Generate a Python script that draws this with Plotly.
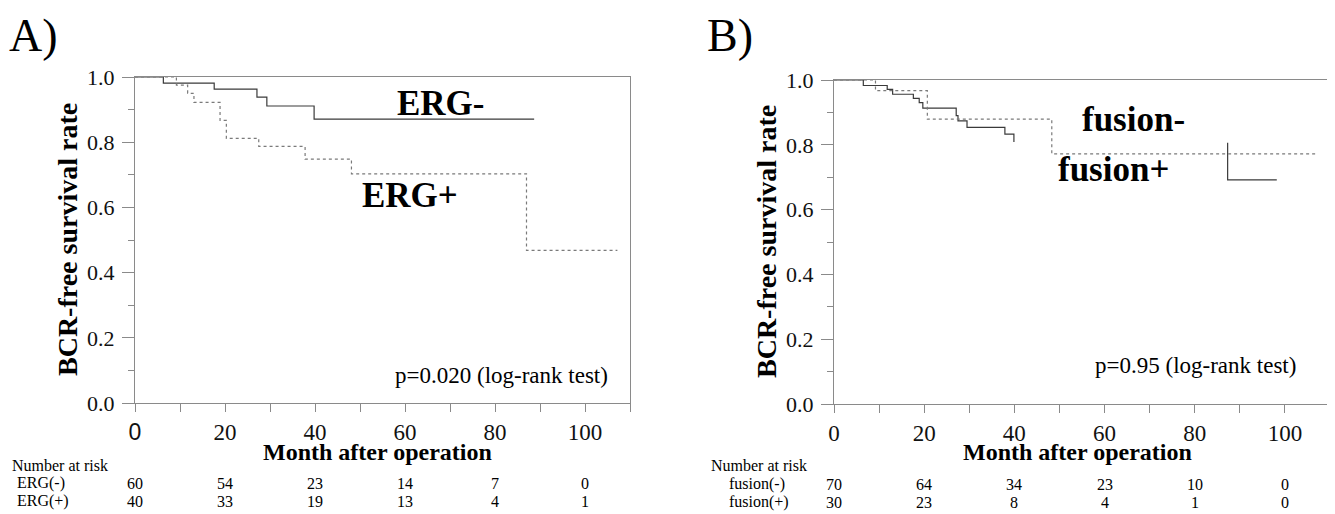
import plotly.graph_objects as go

# ---------------- data ----------------
erg_neg_t = [0, 6.3, 17.6, 27.1, 29.3, 39.8, 88.7]
erg_neg_s = [1.0, 0.981, 0.963, 0.938, 0.911, 0.871, 0.871]
erg_pos_t = [0, 9.2, 11.7, 13.1, 18.9, 20.3, 27.5, 37.8, 48.1, 87.0, 107.2]
erg_pos_s = [1.0, 0.975, 0.95, 0.922, 0.867, 0.812, 0.787, 0.748, 0.703, 0.468, 0.468]

fus_neg_t = [0, 6.5, 11.8, 13.0, 17.6, 18.9, 19.7, 27.1, 27.5, 29.5, 37.9, 39.9, None, 87.3, 87.3, 98.2]
fus_neg_s = [1.0, 0.983, 0.971, 0.956, 0.943, 0.930, 0.913, 0.890, 0.874, 0.854, 0.833, 0.809, None, 0.806, 0.692, 0.692]
fus_pos_t = [0, 9.2, 20.7, 48.3, 107.3]
fus_pos_s = [1.0, 0.967, 0.879, 0.772, 0.772]

risk_months = [0, 20, 40, 60, 80, 100]
risk_erg_neg = [60, 54, 23, 14, 7, 0]
risk_erg_pos = [40, 33, 19, 13, 4, 1]
risk_fus_neg = [70, 64, 34, 23, 10, 0]
risk_fus_pos = [30, 23, 8, 4, 1, 0]

x_ticks = [0, 20, 40, 60, 80, 100]
y_ticks = [0.0, 0.2, 0.4, 0.6, 0.8, 1.0]

# page is 1335x514; the html body has an 8px margin
OFF = 8
W, H = 1335 - OFF, 514 - OFF
SERIF = "Liberation Serif, Times New Roman, serif"
SOLID_C = "#3a3a3a"
DOT_C = "#7a7a7a"
AX_C = "#8a8a8a"

def px_x(p):
    return (p - OFF) / W

def px_y(p):
    return 1 - (p - OFF) / H

fig = go.Figure()

fig.add_trace(go.Scatter(x=erg_neg_t, y=erg_neg_s, mode="lines", line_shape="hv",
                         line=dict(color=SOLID_C, width=1.2), xaxis="x", yaxis="y", showlegend=False))
fig.add_trace(go.Scatter(x=erg_pos_t, y=erg_pos_s, mode="lines", line_shape="hv",
                         line=dict(color=DOT_C, width=1.2, dash="dot"), xaxis="x", yaxis="y", showlegend=False))
fig.add_trace(go.Scatter(x=fus_neg_t, y=fus_neg_s, mode="lines", line_shape="hv", connectgaps=False,
                         line=dict(color=SOLID_C, width=1.2), xaxis="x2", yaxis="y2", showlegend=False))
fig.add_trace(go.Scatter(x=fus_pos_t, y=fus_pos_s, mode="lines", line_shape="hv",
                         line=dict(color=DOT_C, width=1.2, dash="dot"), xaxis="x2", yaxis="y2", showlegend=False))

# panel geometry (page pixels)
A = dict(l=135, r=630, t=77, b=403)
B = dict(l=834, r=1330, t=80, b=404)

def xaxis_cfg(p, anchor, first_label_html=None):
    ticktext = [str(v) for v in x_ticks]
    if first_label_html:
        ticktext[0] = first_label_html
    return dict(domain=[px_x(p["l"]), px_x(p["r"])], range=[0, 110], anchor=anchor,
                automargin=False,
                tickmode="array", tickvals=x_ticks, ticktext=ticktext,
                ticks="outside", ticklen=8, tickwidth=1, tickcolor=AX_C,
                minor=dict(dtick=10, tick0=0, ticks="outside", ticklen=8, tickcolor=AX_C, tickwidth=1),
                showline=True, linecolor=AX_C, linewidth=1, mirror=True,
                showgrid=False, zeroline=False, ticklabelstandoff=0,
                tickfont=dict(family=SERIF, size=23, color="#111"))

def yaxis_cfg(p, anchor):
    return dict(domain=[px_y(p["b"]), px_y(p["t"])], range=[0, 1], anchor=anchor,
                automargin=False,
                tickmode="array", tickvals=y_ticks, tickformat=".1f",
                ticks="outside", ticklen=12, tickwidth=1, tickcolor=AX_C,
                minor=dict(dtick=0.1, tick0=0, ticks="outside", ticklen=6, tickcolor=AX_C, tickwidth=1),
                showline=True, linecolor=AX_C, linewidth=1, mirror=True,
                showgrid=False, zeroline=False, ticklabelstandoff=3,
                tickfont=dict(family=SERIF, size=22, color="#111"))

fig.update_layout(
    width=W, height=H, margin=dict(l=0, r=0, t=0, b=0, autoexpand=False),
    paper_bgcolor="white", plot_bgcolor="white",
    xaxis=xaxis_cfg(A, "y", first_label_html='<span style="font-family:Liberation Sans;">0</span>'),
    yaxis=yaxis_cfg(A, "x"),
    xaxis2=xaxis_cfg(B, "y2"),
    yaxis2=yaxis_cfg(B, "x2"),
)

ann = []

def add_text(text, x, y, size, bold=False, xanchor="center", yanchor="middle", xref="paper", yref="paper",
             angle=0, family=SERIF):
    t = f"<b>{text}</b>" if bold else text
    ann.append(dict(text=t, x=x, y=y, xref=xref, yref=yref, showarrow=False,
                    xanchor=xanchor, yanchor=yanchor, textangle=angle,
                    font=dict(family=family, size=size, color="black")))

# panel letters
add_text("A)", px_x(7), px_y(35), 46, xanchor="left")
add_text("B)", px_x(705), px_y(35), 46, xanchor="left")

for p, xr, yr, dx in ((A, "x", "y", 0), (B, "x2", "y2", 699)):
    add_text("BCR-free survival rate", px_x(67 + dx), px_y((p["t"] + p["b"]) / 2), 28, bold=True, angle=-90)
    add_text("Month after operation", px_x((p["l"] + p["r"]) / 2 - 5), px_y(452), 24, bold=True)
    add_text("Number at risk", px_x(10 + dx), px_y(465), 16, xanchor="left")

# panel A labels
add_text("ERG-", 68.0, 0.92, 35, bold=True, xref="x", yref="y")
add_text("ERG+", 61.0, 0.638, 35, bold=True, xref="x", yref="y")
add_text("p=0.020 (log-rank test)", 81.4, 0.084, 23, xref="x", yref="y")
# panel B labels
add_text("fusion-", 66.4, 0.877, 35, bold=True, xref="x2", yref="y2")
add_text("fusion+", 62.0, 0.725, 35, bold=True, xref="x2", yref="y2")
add_text("p=0.95 (log-rank test)", 80.2, 0.118, 23, xref="x2", yref="y2")

# number at risk rows
rows = [
    ("x", 15, "ERG(-)", risk_erg_neg, 483),
    ("x", 15, "ERG(+)", risk_erg_pos, 501),
    ("x2", 727, "fusion(-)", risk_fus_neg, 484),
    ("x2", 727, "fusion(+)", risk_fus_pos, 502),
]
for xr, lx, label, vals, ypx in rows:
    add_text(label, px_x(lx), px_y(ypx), 16, xanchor="left")
    for m, v in zip(risk_months, vals):
        add_text(str(v), m, px_y(ypx), 16, xref=xr, yref="paper")

fig.update_layout(annotations=ann)
fig.write_html("out.html")
